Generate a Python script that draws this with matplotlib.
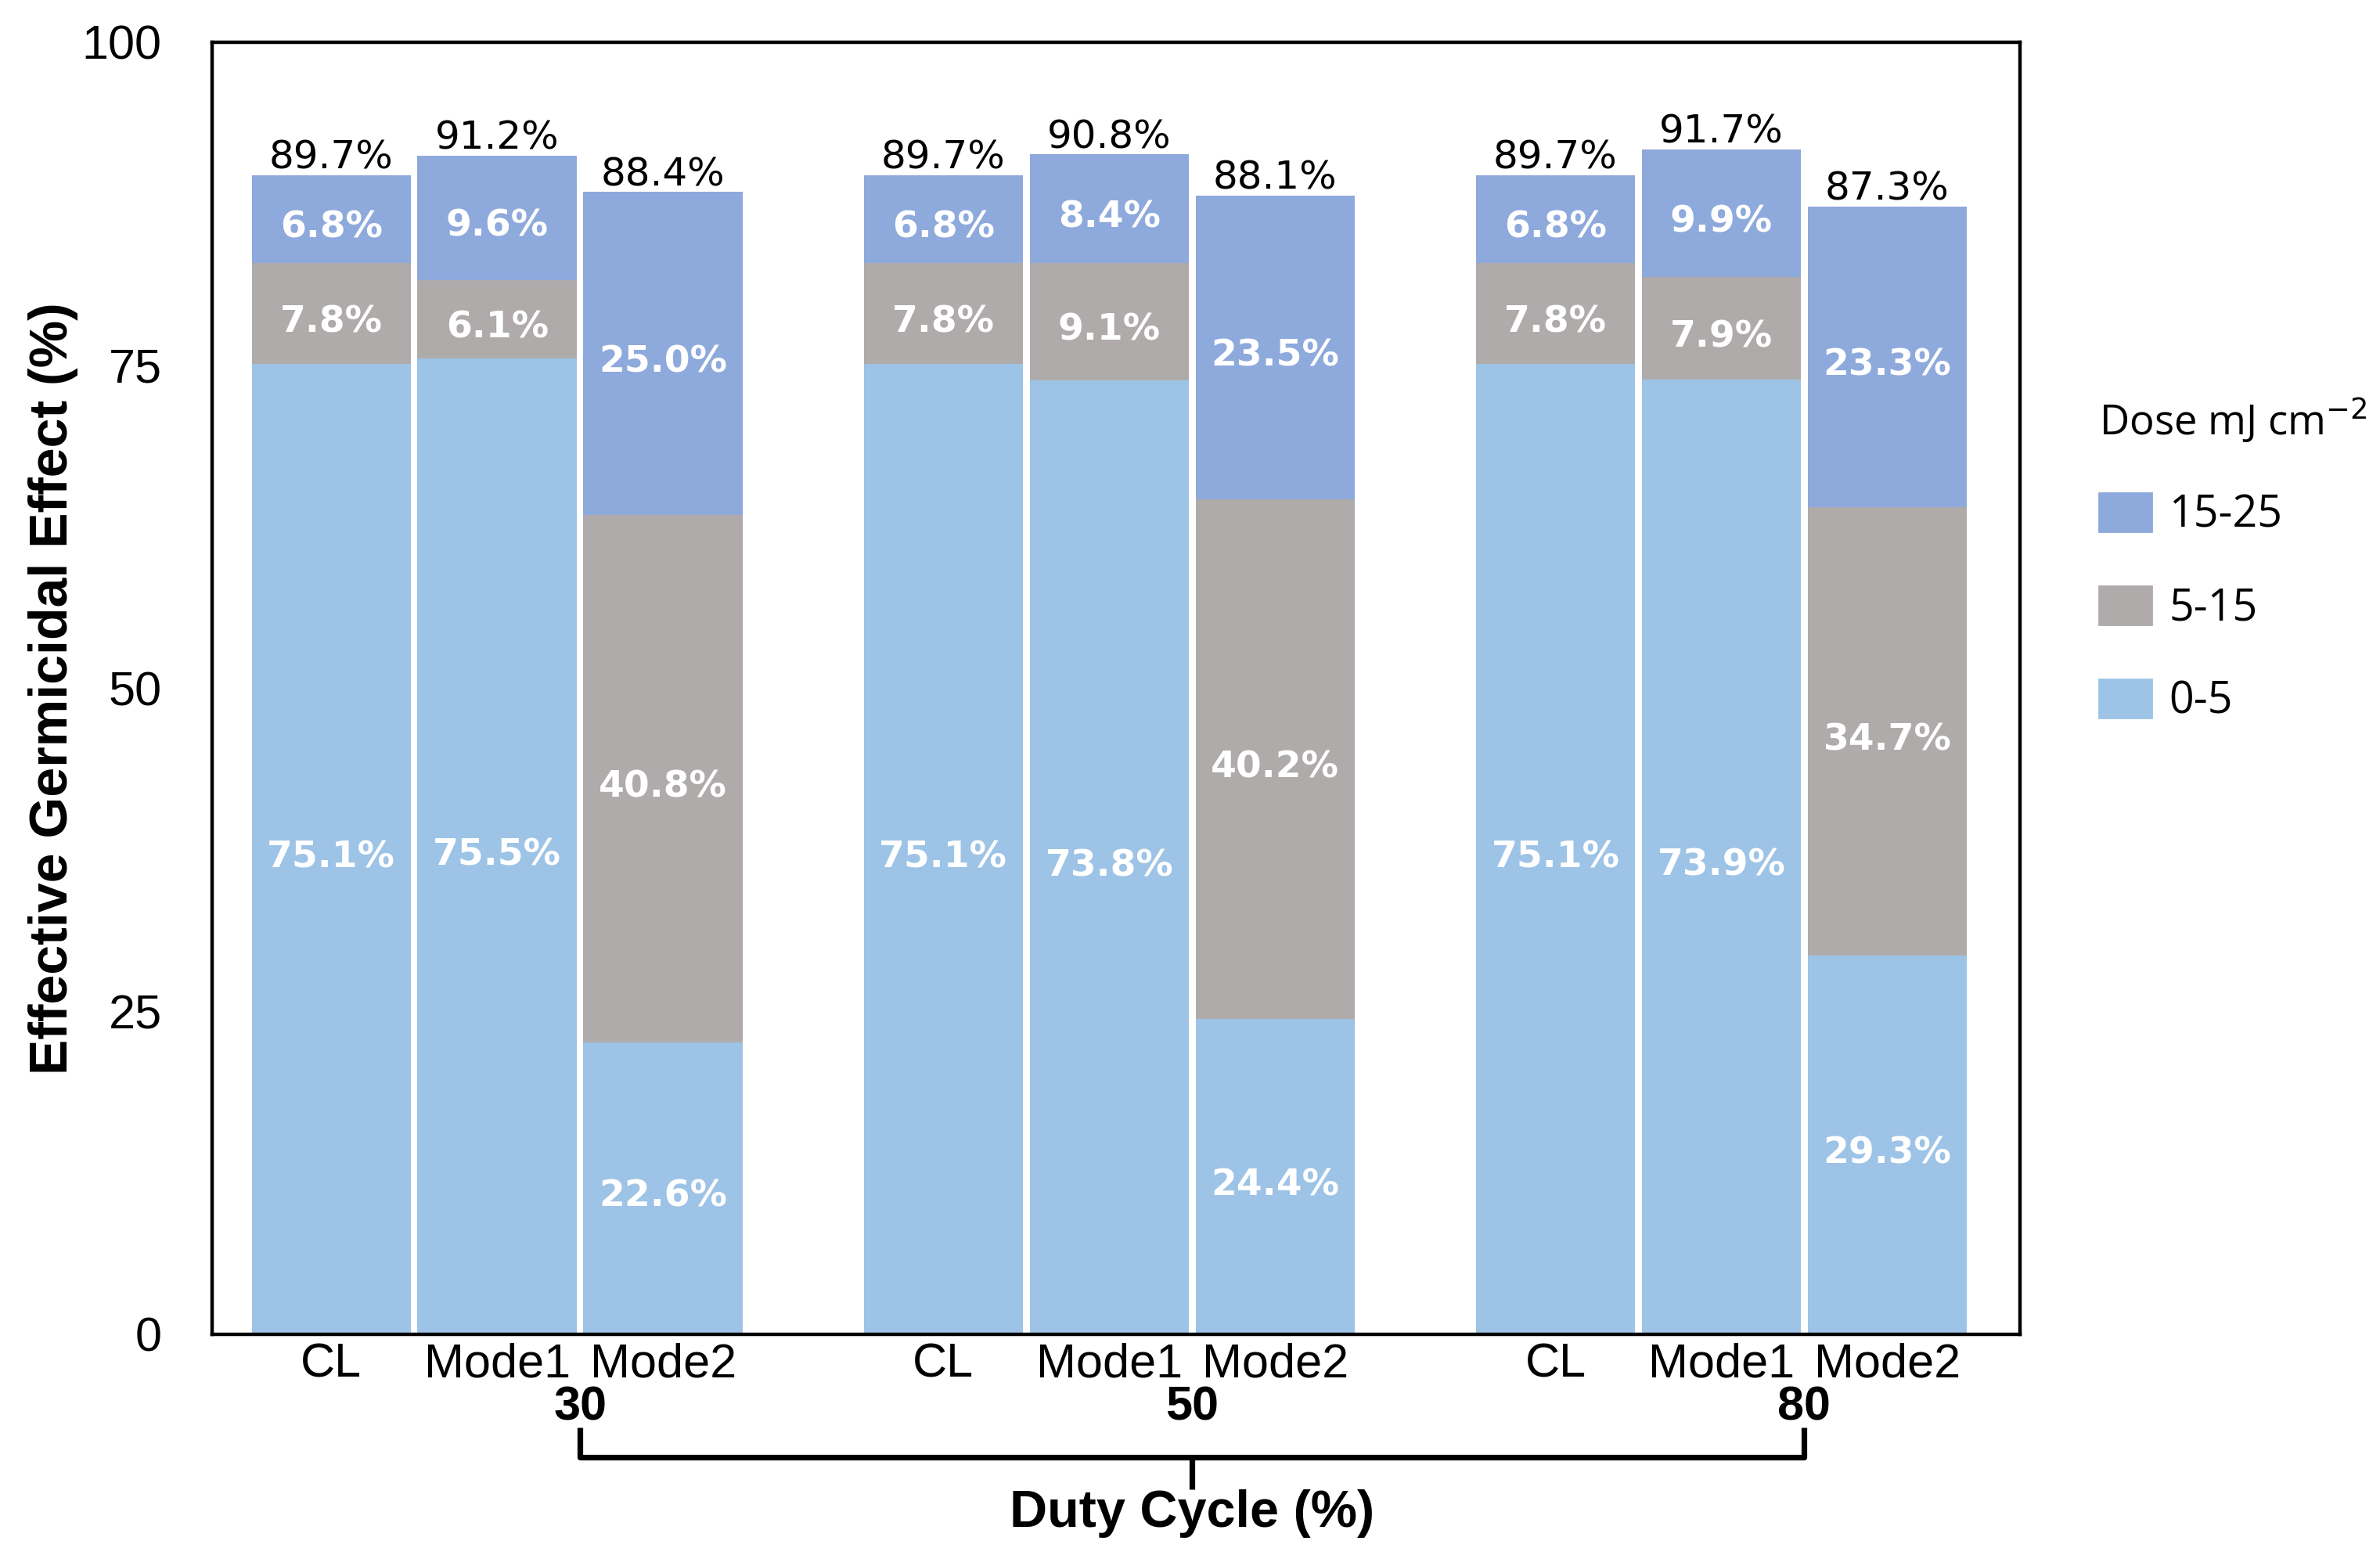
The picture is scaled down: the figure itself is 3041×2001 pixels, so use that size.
import numpy as np
import matplotlib.pyplot as plt
from matplotlib.patches import Patch

# data
duty = ['30', '50', '80']
modes = ['CL', 'Mode1', 'Mode2']
dose_low = [75.1, 75.5, 22.6, 75.1, 73.8, 24.4, 75.1, 73.9, 29.3]    # 0-5
dose_mid = [7.8, 6.1, 40.8, 7.8, 9.1, 40.2, 7.8, 7.9, 34.7]          # 5-15
dose_high = [6.8, 9.6, 25.0, 6.8, 8.4, 23.5, 6.8, 9.9, 23.3]         # 15-25
totals = [89.7, 91.2, 88.4, 89.7, 90.8, 88.1, 89.7, 91.7, 87.3]

c_low = '#9DC3E6'
c_mid = '#AFABAB'
c_high = '#8EA9DB'

fig = plt.figure(figsize=(15.205, 10.005), dpi=200)
ax = fig.add_axes([0.089, 0.148, 0.7597, 0.8251])

gap = 3.69
x = np.array([g*gap + j for g in range(len(duty)) for j in range(len(modes))])
w = 0.96

low = np.array(dose_low)
mid = np.array(dose_mid)
high = np.array(dose_high)

b1 = ax.bar(x, low, w, color=c_low, label='0-5')
b2 = ax.bar(x, mid, w, bottom=low, color=c_mid, label='5-15')
b3 = ax.bar(x, high, w, bottom=low+mid, color=c_high, label='15-25')

lab = dict(ha='center', va='center', color='white', fontweight='bold',
           fontsize=17, family='DejaVu Sans', xytext=(0, -4),
           textcoords='offset points')
for i in range(len(x)):
    ax.annotate('%.1f%%' % low[i], (x[i], low[i]/2), **lab)
    ax.annotate('%.1f%%' % mid[i], (x[i], low[i] + mid[i]/2), **lab)
    ax.annotate('%.1f%%' % high[i], (x[i], low[i] + mid[i] + high[i]/2), **lab)
    ax.annotate('%.1f%%' % totals[i], (x[i], low[i]+mid[i]+high[i]),
                xytext=(0, 3), textcoords='offset points', ha='center',
                va='baseline', fontsize=18, family='DejaVu Sans')

ax.set_xlim(-0.72, 2*gap + 2 + 0.80)
ax.set_ylim(0, 100)
ax.set_yticks([0, 25, 50, 75, 100])
ax.tick_params(axis='y', length=0, pad=23, labelsize=22)
ax.set_xticks(x)
ax.set_xticklabels(modes*3, family='Liberation Sans')
ax.tick_params(axis='x', length=0, pad=4, labelsize=22)
for t in ax.get_yticklabels():
    t.set_family('Liberation Sans')
for s in ax.spines.values():
    s.set_linewidth(1.6)

ax.set_ylabel('Effective Germicidal Effect (%)', fontsize=24.5, fontweight='bold',
              family='Liberation Sans')
ax.yaxis.set_label_coords(-0.074, 0.5)

# group labels and bracket below the axis
gx = [g*gap + 1.5 for g in range(len(duty))]
for g in range(len(duty)):
    ax.text(gx[g], -5.7, duty[g], ha='center', va='center', fontsize=22,
            fontweight='bold', family='Liberation Sans', clip_on=False)
lk = dict(color='black', lw=2.6, clip_on=False, solid_capstyle='butt',
          solid_joinstyle='round')
ax.plot([gx[0], gx[0], gx[2], gx[2]], [-7.2, -9.5, -9.5, -7.2], **lk)
ax.plot([gx[1], gx[1]], [-9.5, -12.0], **lk)
ax.text(gx[1], -13.9, 'Duty Cycle (%)', ha='center', va='center', fontsize=24,
        fontweight='bold', family='Liberation Sans', clip_on=False)

handles = [Patch(color=c_high), Patch(color=c_mid), Patch(color=c_low)]
leg = fig.legend(handles, ['15-25', '5-15', '0-5'], title='Dose mJ cm$^{-2}$',
                 loc='upper left', bbox_to_anchor=(0.8656, 0.772), frameon=False,
                 prop={'family': 'Open Sans', 'size': 20},
                 title_fontproperties={'family': 'Open Sans', 'size': 19},
                 handlelength=1.2, handleheight=1.0, labelspacing=1.1,
                 handletextpad=0.4, alignment='left')
leg._legend_box.sep = 22

fig.savefig('out.png', dpi=200)
